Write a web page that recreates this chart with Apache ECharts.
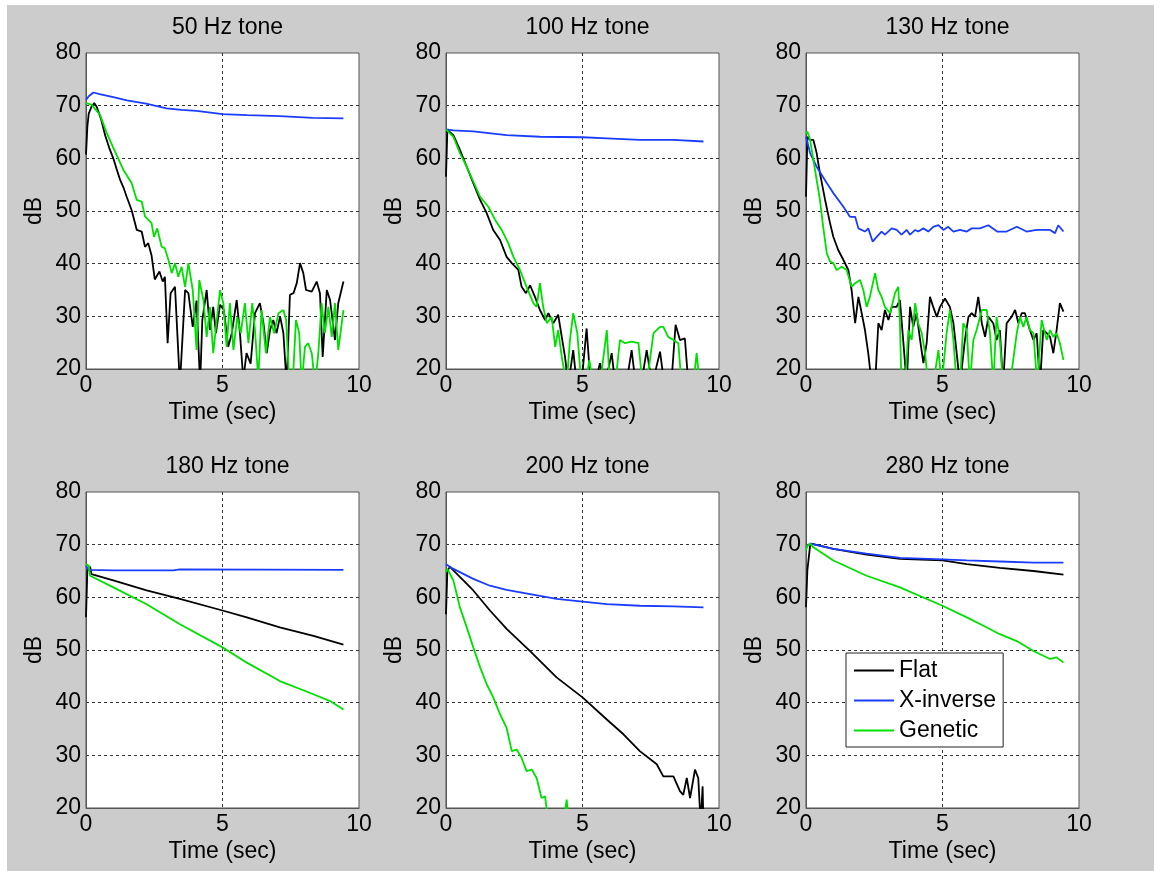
<!DOCTYPE html>
<html>
<head>
<meta charset="utf-8">
<script src="https://cdn.jsdelivr.net/npm/echarts@6/dist/echarts.min.js"></script>
<style>
  html, body { margin: 0; padding: 0; background: #fff; }
  #chart { width: 1154px; height: 871px; }
</style>
</head>
<body>
<div id="chart"></div>
<script>
// values: [time (sec), dB]; below 20 dB is clipped by the axis
const titles = ['50 Hz tone', '100 Hz tone', '130 Hz tone', '180 Hz tone', '200 Hz tone', '280 Hz tone']
const names = ['Flat', 'X-inverse', 'Genetic']

const flat50 = [[0,60.7],[0.05,66],[0.1,68.5],[0.2,69.8],[0.3,70.5],[0.39,69.8],[0.55,67.5],[0.7,64.4],[0.85,62],[1.0,60],[1.12,58],[1.25,55.9],[1.37,54.5],[1.49,52.7],[1.67,50.2],[1.86,46.4],[2.04,46.1],[2.16,43.2],[2.28,43.9],[2.4,41.6],[2.45,41.5],[2.52,37],[2.59,36.9],[2.69,38.5],[2.81,36.6],[2.89,37.5],[2.99,24.9],[3.1,34.4],[3.26,35.6],[3.44,17],[3.5,17],[3.63,35],[3.75,34.4],[3.91,28],[4.05,33],[4.18,17],[4.26,29.3],[4.42,35],[4.54,27.4],[4.66,31.8],[4.76,26.8],[4.91,32.2],[5.05,31.2],[5.21,24.2],[5.34,26.8],[5.52,33.1],[5.64,26.8],[5.76,18],[5.88,23],[6.03,21],[6.19,30.6],[6.37,32.5],[6.5,28.7],[6.62,23],[6.74,27.4],[6.86,29.3],[6.98,26.8],[7.11,30],[7.23,26.8],[7.35,17],[7.47,34.1],[7.6,34.4],[7.72,36.3],[7.84,40.1],[7.96,38.2],[8.06,35],[8.27,34.7],[8.45,36.6],[8.57,34.4],[8.67,22.3],[8.82,35],[8.94,33.1],[9.12,25.5],[9.24,32.5],[9.43,36.6]]
const xinv50 = [[0,71.1],[0.1,71.8],[0.27,72.5],[0.5,72.2],[1.0,71.6],[1.5,71.0],[2.2,70.4],[2.95,69.5],[3.5,69.2],[4.05,69.0],[5.0,68.4],[5.9,68.2],[7.1,68.0],[8.3,67.7],[9.43,67.6]]
const gen50 = [[0,70.5],[0.2,70.2],[0.51,68.3],[0.76,64.8],[1.06,61.3],[1.37,57.8],[1.67,55.3],[1.86,52.1],[2.04,51.8],[2.16,49],[2.4,47.7],[2.49,45.1],[2.61,46.7],[2.77,43.2],[2.89,42.9],[3.02,40.7],[3.14,38.2],[3.26,40.1],[3.38,37.5],[3.5,39.4],[3.63,35.6],[3.75,40.1],[3.91,35],[4.05,23.6],[4.15,36.9],[4.3,33.1],[4.42,26.1],[4.54,31.8],[4.66,23],[4.79,29.3],[4.91,35],[5.03,32.5],[5.15,24.2],[5.27,32.5],[5.4,23.6],[5.54,29.9],[5.67,26.8],[5.82,32.5],[5.95,24.9],[6.09,32.5],[6.19,27.4],[6.31,18],[6.43,31.2],[6.59,23],[6.74,29.9],[6.89,26.8],[7.05,30.6],[7.23,31.2],[7.33,29.3],[7.45,17],[7.57,17],[7.69,29.3],[7.81,26.8],[7.9,17],[8.02,24.2],[8.14,24.9],[8.27,23],[8.39,17],[8.51,23],[8.63,32.5],[8.75,26.8],[8.88,31.8],[9.0,26.1],[9.12,32.5],[9.24,23.6],[9.43,31.2]]

const flat100 = [[0,56.5],[0.05,65.4],[0.27,64.4],[0.51,61.6],[0.76,58.4],[1.0,55.3],[1.25,52.1],[1.49,49.6],[1.73,46.4],[1.98,44.5],[2.22,41.3],[2.41,40.1],[2.65,38.8],[2.77,35.6],[2.93,34.4],[3.08,35.9],[3.26,33.7],[3.44,31.2],[3.63,29.3],[3.75,30.6],[3.93,28.7],[4.11,30.3],[4.24,26.1],[4.36,22.3],[4.48,17],[4.66,23.6],[4.79,17],[4.96,17],[5.15,27.7],[5.3,17],[5.45,17],[5.64,21.1],[5.82,17],[6.07,23],[6.2,17],[6.4,17],[6.6,17],[6.8,23.6],[6.95,17],[7.15,17],[7.35,23.6],[7.55,17],[7.84,23.3],[8.0,17],[8.25,17],[8.41,28.4],[8.57,25.5],[8.75,25.8],[8.88,17],[9.1,17],[9.43,17]]
const xinv100 = [[0,65.5],[0.27,65.3],[1.0,65.1],[2.22,64.4],[3.44,64.1],[5.0,64.0],[5.89,63.8],[7.1,63.5],[8.33,63.5],[9.43,63.2]]
const gen100 = [[0,65.5],[0.27,64.1],[0.51,61],[0.76,58.4],[1.0,55.6],[1.25,52.7],[1.55,50.8],[1.8,48.3],[2.04,46.4],[2.28,43.9],[2.47,41.3],[2.71,38.8],[2.95,35.6],[3.2,32.5],[3.32,31.8],[3.44,36.3],[3.56,31.8],[3.69,28.7],[3.87,29.9],[4.0,24.2],[4.11,27.4],[4.24,22.3],[4.42,17],[4.54,25.5],[4.66,30.6],[4.81,26.8],[4.96,17],[5.1,17],[5.25,21.7],[5.4,17],[5.64,17],[5.89,27.4],[6.0,17],[6.2,17],[6.37,25.5],[6.56,24.9],[6.8,25.2],[7.05,24.9],[7.2,17],[7.35,17],[7.6,26.8],[7.84,28],[7.96,28],[8.14,26.1],[8.33,25.5],[8.51,24.9],[8.63,17],[8.85,17],[9.06,17],[9.18,23],[9.3,17]]

const flat130 = [[0,52.7],[0.05,64.1],[0.15,63.5],[0.27,63.5],[0.39,61],[0.51,57.2],[0.7,52.1],[0.88,47.7],[1.0,45.1],[1.18,42.6],[1.37,40.7],[1.55,38.8],[1.67,35],[1.8,28.7],[1.92,33.7],[2.04,30.6],[2.16,27.4],[2.28,23],[2.41,17],[2.53,17],[2.65,28.7],[2.77,27.4],[2.89,31.2],[3.02,29.3],[3.14,31.8],[3.32,31.8],[3.44,33.1],[3.56,25.5],[3.69,17],[3.81,31.8],[3.93,28],[4.05,30.6],[4.18,25.5],[4.3,21.1],[4.42,24.9],[4.54,33.7],[4.66,31.8],[4.79,29.9],[4.91,31.8],[5.09,33.4],[5.27,31.8],[5.4,28.7],[5.52,23],[5.64,17],[5.82,25.5],[5.95,29.9],[6.07,30.6],[6.19,29.9],[6.31,33.7],[6.44,28.7],[6.56,26.1],[6.68,29.9],[6.86,28.7],[6.98,25.5],[7.1,27.4],[7.22,17],[7.35,28.7],[7.53,29.9],[7.66,31.2],[7.78,28.7],[7.9,30.6],[8.02,30.6],[8.2,27.4],[8.33,25.5],[8.45,26.8],[8.57,17],[8.69,27.4],[8.82,26.8],[8.94,26.1],[9.06,23],[9.18,27.4],[9.3,32.5],[9.43,30.9]]
const xinv130 = [[0,64.1],[0.15,61],[0.39,58.4],[0.76,55.3],[1.0,53.4],[1.37,50.8],[1.61,48.9],[1.8,48.9],[1.92,46.7],[2.16,46.1],[2.28,46.7],[2.44,44.2],[2.59,45.1],[2.77,46.1],[2.89,45.5],[3.14,46.7],[3.32,46.4],[3.5,45.5],[3.69,46.4],[3.81,45.5],[4.0,46.4],[4.11,46.1],[4.3,46.7],[4.48,46.1],[4.66,47],[4.85,47.3],[5.03,46.4],[5.21,47],[5.4,46.1],[5.64,46.4],[5.89,46.1],[6.07,46.7],[6.37,46.7],[6.68,47.3],[7.0,46.1],[7.35,46.1],[7.72,47],[8.08,46.1],[8.45,46.4],[8.94,46.4],[9.12,45.8],[9.24,47.3],[9.43,46.1]]
const gen130 = [[0,64.7],[0.05,65.1],[0.15,63.5],[0.27,59.7],[0.39,55.9],[0.51,52.1],[0.63,47],[0.76,42],[0.88,40.4],[1.0,40.1],[1.12,38.8],[1.31,39.4],[1.49,38.8],[1.67,35.6],[1.8,36.3],[1.98,36.9],[2.1,35],[2.22,31.8],[2.34,33.7],[2.53,38.2],[2.65,35],[2.77,33.7],[2.89,31.8],[3.08,30.6],[3.26,34.4],[3.38,35.6],[3.44,28.7],[3.5,17],[3.63,17],[3.75,27.4],[3.87,25.5],[4.0,32.5],[4.11,28.7],[4.24,26.8],[4.36,23],[4.48,17],[4.66,17],[4.85,23.6],[4.97,17],[5.15,26.8],[5.27,31.2],[5.4,25.5],[5.52,17],[5.64,17],[5.76,28.7],[5.89,27.4],[6.0,17],[6.13,25.5],[6.25,27.4],[6.44,31.2],[6.62,31.2],[6.74,26.8],[6.86,17],[6.98,29.9],[7.1,25.5],[7.22,17],[7.47,17],[7.72,26.8],[7.84,29.9],[7.96,28],[8.08,29.9],[8.2,27.4],[8.33,26.8],[8.47,17],[8.63,29.3],[8.82,25.5],[8.94,27.4],[9.06,26.1],[9.18,26.8],[9.3,24.9],[9.43,21.7]]

const flat180 = [[0,56.2],[0.05,65.1],[0.15,65.8],[0.2,64.4],[1.0,63.2],[2.22,61.3],[3.44,59.7],[5.0,57.5],[5.89,56.2],[7.1,54.3],[8.33,52.7],[9.43,51.0]]
const xinv180 = [[0,66],[0.1,65.2],[1.0,65.1],[3.2,65.1],[3.44,65.3],[9.43,65.2]]
const gen180 = [[0,66.3],[0.1,66],[0.15,64.1],[1.0,61.9],[2.22,58.7],[3.44,54.9],[5.0,50.5],[5.89,47.6],[7.1,44.1],[8.33,41.6],[8.94,40.3],[9.43,38.7]]

const flat200 = [[0,56.8],[0.05,65.1],[0.15,65.8],[0.27,65.1],[1.0,61.3],[1.61,57.5],[2.22,54],[3.08,49.8],[4.05,44.8],[5.0,41],[5.89,36.8],[6.5,34],[7.1,30.8],[7.72,28.3],[7.96,26],[8.33,26],[8.57,23.2],[8.69,22.5],[8.82,25.7],[8.94,21.9],[9.12,27.3],[9.24,25.7],[9.33,17],[9.4,24.1],[9.43,17]]
const xinv200 = [[0,66.3],[0.27,65.4],[1.0,63.5],[1.61,62.2],[2.22,61.4],[3.08,60.6],[4.05,59.7],[5.0,59.2],[5.89,58.7],[7.1,58.4],[8.33,58.3],[9.43,58.1]]
const gen200 = [[0,64.8],[0.05,65.4],[0.27,63.2],[0.51,58.1],[0.76,54.3],[1.0,50.5],[1.25,46.7],[1.49,43.5],[1.73,41],[1.98,37.8],[2.22,35.2],[2.41,30.8],[2.59,31.1],[2.77,29.5],[2.95,27],[3.14,27.3],[3.32,25.7],[3.5,21.9],[3.63,22.2],[3.75,17],[4.3,17],[4.42,21.6],[4.5,17],[9.43,17]]

const flat280 = [[0,58.1],[0.05,65.1],[0.15,69.8],[0.2,70.2],[1.0,69.2],[2.22,68.1],[3.44,67.3],[5.0,67],[5.89,66.3],[7.1,65.6],[8.33,65],[9.43,64.3]]
const xinv280 = [[0,69.5],[0.15,70.2],[1.0,69.2],[2.22,68.3],[3.44,67.5],[5.0,67.2],[5.89,67],[7.1,66.8],[8.33,66.6],[9.43,66.6]]
const gen280 = [[0,68.9],[0.05,69.8],[0.15,70.2],[0.27,69.5],[1.0,67],[2.22,64.1],[3.44,61.9],[5.0,58.4],[5.89,56.2],[6.5,54.6],[7.1,53],[7.72,51.7],[8.33,49.8],[8.94,48.3],[9.18,48.6],[9.43,47.6]]

const panels = [
  [flat50, xinv50, gen50],
  [flat100, xinv100, gen100],
  [flat130, xinv130, gen130],
  [flat180, xinv180, gen180],
  [flat200, xinv200, gen200],
  [flat280, xinv280, gen280]
]
const colors = ['#000000', '#1a3cff', '#00e000']

const font = 'Liberation Sans, Arial, sans-serif'
const fs = 23
const lefts = [86, 446, 806]
const tops = [53, 492]
const plotW = 273
const plotH = 316

const chart = echarts.init(document.getElementById('chart'))

const grids = [], xAxes = [], yAxes = [], titleList = [], series = []
panels.forEach((lines, i) => {
  const col = i % 3, row = Math.floor(i / 3)
  grids.push({
    left: lefts[col], top: tops[row], width: plotW, height: plotH,
    show: true, backgroundColor: '#fff', borderColor: '#555', borderWidth: 1
  })
  xAxes.push({
    gridIndex: i, type: 'value', min: 0, max: 10, interval: 5,
    name: 'Time (sec)', nameLocation: 'middle', nameGap: 32,
    nameTextStyle: {fontSize: fs, color: '#000', fontFamily: font},
    axisLine: {show: true, lineStyle: {color: '#555'}},
    axisTick: {show: false},
    axisLabel: {fontSize: fs, color: '#000', margin: 5, fontFamily: font},
    splitLine: {show: true, showMinLine: false, showMaxLine: false,
      lineStyle: {color: '#333', type: [3, 3], width: 1}}
  })
  yAxes.push({
    gridIndex: i, type: 'value', min: 20, max: 80, interval: 10,
    name: 'dB', nameLocation: 'middle', nameGap: 40,
    nameTextStyle: {fontSize: fs, color: '#000', fontFamily: font},
    axisLine: {show: true, lineStyle: {color: '#555'}},
    axisTick: {show: false},
    axisLabel: {fontSize: fs, color: '#000', margin: 5, fontFamily: font},
    splitLine: {show: true, showMinLine: false, showMaxLine: false,
      lineStyle: {color: '#333', type: [3, 3], width: 1}}
  })
  titleList.push({
    text: titles[i], left: lefts[col] + plotW / 2, top: tops[row] - 42,
    textAlign: 'center',
    textStyle: {fontSize: fs, fontWeight: 'normal', color: '#000', fontFamily: font}
  })
  lines.forEach((data, k) => {
    series.push({
      name: names[k], type: 'line', xAxisIndex: i, yAxisIndex: i,
      data: data, showSymbol: false, symbol: 'none', clip: true,
      lineStyle: {color: colors[k], width: 1.8},
      itemStyle: {color: colors[k]}
    })
  })
})

chart.setOption({
  animation: false,
  backgroundColor: '#fff',
  graphic: [{
    type: 'rect', z: -10, silent: true,
    shape: {x: 7, y: 5, width: 1147, height: 866},
    style: {fill: '#cccccc'}
  }],
  title: titleList,
  grid: grids,
  xAxis: xAxes,
  yAxis: yAxes,
  legend: {
    data: names, orient: 'vertical', left: 846, top: 653,
    padding: [6, 7, 5, 8], itemGap: 7, itemWidth: 40, itemHeight: 2,
    icon: 'rect', backgroundColor: '#fff', borderColor: '#222', borderWidth: 1,
    textStyle: {fontSize: fs, color: '#000', fontFamily: font}
  },
  series: series
})
</script>
</body>
</html>
